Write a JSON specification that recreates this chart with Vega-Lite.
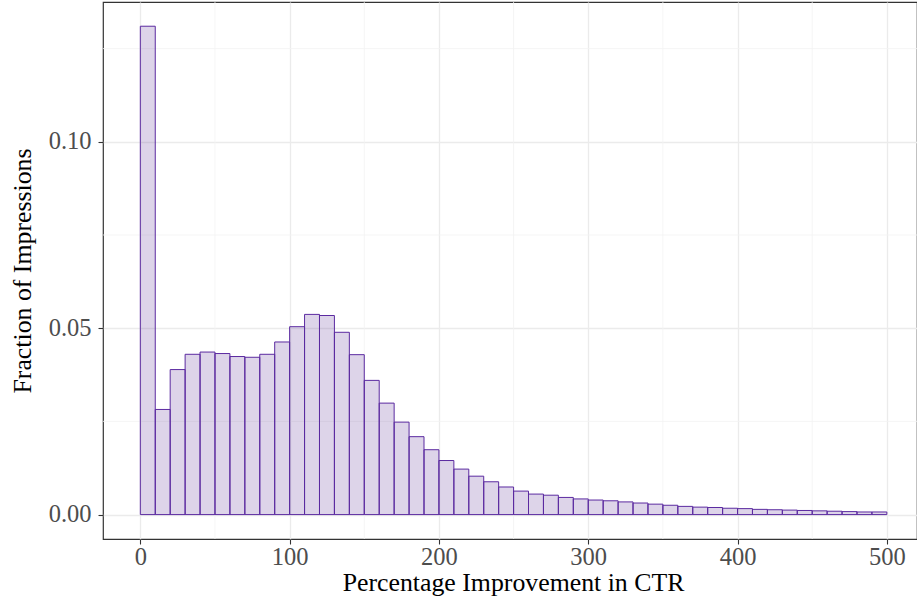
{
  "$schema": "https://vega.github.io/schema/vega-lite/v6.json",
  "width": 814,
  "height": 537,
  "autosize": {"type": "none"},
  "padding": {"left": 103, "top": 2, "right": 0, "bottom": 66},
  "background": "white",
  "config": {
    "view": {"stroke": "#333333", "strokeWidth": 1.2},
    "axis": {
      "domain": false,
      "tickColor": "#333333",
      "tickSize": 5,
      "tickWidth": 1.1,
      "labelFont": "Liberation Serif",
      "labelFontSize": 24.5,
      "labelColor": "#4d4d4d",
      "titleFont": "Liberation Serif",
      "titleFontSize": 25.8,
      "titleFontWeight": "normal",
      "titleColor": "#000000",
      "gridColor": "#ebebeb",
      "gridWidth": 1.3
    }
  },
  "layer": [
    {
      "data": {"values": [{"v": 50}, {"v": 150}, {"v": 250}, {"v": 350}, {"v": 450}]},
      "mark": {"type": "rule", "color": "#f2f2f2", "strokeWidth": 0.8},
      "encoding": {
        "x": {"field": "v", "type": "quantitative", "scale": {"domain": [-25, 520.2], "nice": false, "zero": false},
              "axis": {"values": [0, 100, 200, 300, 400, 500], "title": "Percentage Improvement in CTR", "grid": true, "titlePadding": 2, "labelPadding": 1, "titleX": 410}}
      }
    },
    {
      "data": {"values": [{"v": 0.025}, {"v": 0.075}, {"v": 0.125}]},
      "mark": {"type": "rule", "color": "#f2f2f2", "strokeWidth": 0.8},
      "encoding": {
        "y": {"field": "v", "type": "quantitative", "scale": {"domain": [-0.00655, 0.1375], "nice": false, "zero": false},
              "axis": {"values": [0, 0.05, 0.1], "format": ".2f", "title": "Fraction of Impressions", "grid": true, "titlePadding": 13, "labelPadding": 7}}
      }
    },
    {
      "data": {"values": [
        {"start": 0, "end": 10, "fraction": 0.131},
        {"start": 10, "end": 20, "fraction": 0.0282},
        {"start": 20, "end": 30, "fraction": 0.0389},
        {"start": 30, "end": 40, "fraction": 0.0430},
        {"start": 40, "end": 50, "fraction": 0.0436},
        {"start": 50, "end": 60, "fraction": 0.0432},
        {"start": 60, "end": 70, "fraction": 0.0424},
        {"start": 70, "end": 80, "fraction": 0.0422},
        {"start": 80, "end": 90, "fraction": 0.0430},
        {"start": 90, "end": 100, "fraction": 0.0463},
        {"start": 100, "end": 110, "fraction": 0.0504},
        {"start": 110, "end": 120, "fraction": 0.0537},
        {"start": 120, "end": 130, "fraction": 0.0534},
        {"start": 130, "end": 140, "fraction": 0.0489},
        {"start": 140, "end": 150, "fraction": 0.0429},
        {"start": 150, "end": 160, "fraction": 0.0360},
        {"start": 160, "end": 170, "fraction": 0.0299},
        {"start": 170, "end": 180, "fraction": 0.0248},
        {"start": 180, "end": 190, "fraction": 0.0209},
        {"start": 190, "end": 200, "fraction": 0.0174},
        {"start": 200, "end": 210, "fraction": 0.0145},
        {"start": 210, "end": 220, "fraction": 0.0122},
        {"start": 220, "end": 230, "fraction": 0.0103},
        {"start": 230, "end": 240, "fraction": 0.0088},
        {"start": 240, "end": 250, "fraction": 0.0074},
        {"start": 250, "end": 260, "fraction": 0.0063},
        {"start": 260, "end": 270, "fraction": 0.0055},
        {"start": 270, "end": 280, "fraction": 0.0052},
        {"start": 280, "end": 290, "fraction": 0.0046},
        {"start": 290, "end": 300, "fraction": 0.0042},
        {"start": 300, "end": 310, "fraction": 0.0039},
        {"start": 310, "end": 320, "fraction": 0.0037},
        {"start": 320, "end": 330, "fraction": 0.0034},
        {"start": 330, "end": 340, "fraction": 0.0031},
        {"start": 340, "end": 350, "fraction": 0.0028},
        {"start": 350, "end": 360, "fraction": 0.0025},
        {"start": 360, "end": 370, "fraction": 0.0022},
        {"start": 370, "end": 380, "fraction": 0.0020},
        {"start": 380, "end": 390, "fraction": 0.0019},
        {"start": 390, "end": 400, "fraction": 0.0017},
        {"start": 400, "end": 410, "fraction": 0.0016},
        {"start": 410, "end": 420, "fraction": 0.0014},
        {"start": 420, "end": 430, "fraction": 0.0013},
        {"start": 430, "end": 440, "fraction": 0.0012},
        {"start": 440, "end": 450, "fraction": 0.0011},
        {"start": 450, "end": 460, "fraction": 0.0010},
        {"start": 460, "end": 470, "fraction": 0.0009},
        {"start": 470, "end": 480, "fraction": 0.0008},
        {"start": 480, "end": 490, "fraction": 0.0007},
        {"start": 490, "end": 500, "fraction": 0.0007}
      ]},
      "mark": {"type": "rect", "fill": "#54278f", "fillOpacity": 0.2, "stroke": "#5b2aa0", "strokeWidth": 1},
      "encoding": {
        "x": {"field": "start", "type": "quantitative",
              "scale": {"domain": [-25, 520.2], "nice": false, "zero": false},
              "axis": {"values": [0, 100, 200, 300, 400, 500], "title": "Percentage Improvement in CTR", "grid": true, "titlePadding": 2, "labelPadding": 1, "titleX": 410}},
        "x2": {"field": "end"},
        "y": {"field": "fraction", "type": "quantitative",
              "scale": {"domain": [-0.00655, 0.1375], "nice": false, "zero": false},
              "axis": {"values": [0, 0.05, 0.1], "format": ".2f", "title": "Fraction of Impressions", "grid": true, "titlePadding": 13, "labelPadding": 7}},
        "y2": {"datum": 0}
      }
    }
  ]
}
